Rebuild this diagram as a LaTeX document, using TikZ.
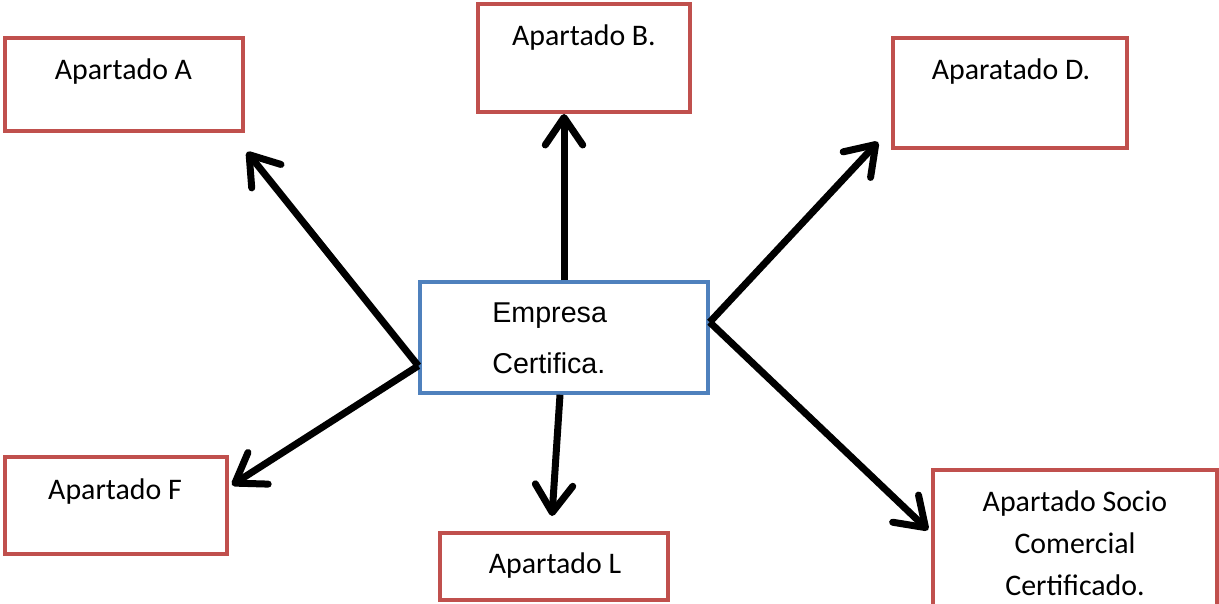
\documentclass[tikz,border=0pt]{standalone}
\usepackage{fontspec}
\setmainfont{Carlito}
\newfontfamily\arialfont{Liberation Sans}
\usetikzlibrary{arrows.meta,calc}
\definecolor{boxred}{RGB}{192,80,77}
\definecolor{boxblue}{RGB}{79,129,189}
\begin{document}
\begin{tikzpicture}[x=0.02cm,y=-0.02cm,
	apbox/.style={rectangle, draw=boxred, line width=0.08cm, inner sep=0pt},
	centralbox/.style={rectangle, draw=boxblue, line width=0.07cm, inner sep=0pt},
	lbl/.style={inner sep=0pt, align=center, font=\fontsize{17}{23.8}\selectfont},
	arr/.style={line width=0.14cm, -{Straight Barb[length=0.55cm, width=0.75cm, round]}}
	]
	\useasboundingbox (0,0) rectangle (1219,604);
	\clip (0,0) rectangle (1219,604);
	\path
	+(124,84.5)  node[apbox, minimum width=4.76cm, minimum height=1.86cm]  (apA) {}
	+(584,58)    node[apbox, minimum width=4.24cm, minimum height=2.16cm]  (apB) {}
	+(1010,93)   node[apbox, minimum width=4.68cm, minimum height=2.20cm]  (apD) {}
	+(564,337.5) node[centralbox, minimum width=5.76cm, minimum height=2.22cm]  (empresa) {}
	+(116,505.5) node[apbox, minimum width=4.44cm, minimum height=1.94cm]  (apF) {}
	+(554,566.5) node[apbox, minimum width=4.56cm, minimum height=1.34cm]  (apL) {}
	+(1075,545)  node[apbox, minimum width=5.68cm, minimum height=3.00cm]  (socio) {}
	;
	\path
	+(123.5,72)  node[lbl]  (txtA) {Apartado A}
	+(584,38)    node[lbl]  (txtB) {Apartado B.}
	+(1011,72)   node[lbl]  (txtD) {Aparatado D.}
	+(492,338.5) node[lbl, anchor=west, align=left, font=\arialfont\fontsize{16.3}{29}\selectfont]  (txtE) {Empresa\\Certifica.}
	+(115,492)   node[lbl]  (txtF) {Apartado F}
	+(555,566)   node[lbl]  (txtL) {Apartado L}
	+(1075,543)  node[lbl]  (txtS) {Apartado Socio\\Comercial\\Certificado.}
	;
	\draw[arr] (empresa.191) -- ($(apA.south east)+(2,19)$);
	\draw[arr] (empresa.north) -- (empresa.north |- apB.south);
	\draw[arr] (empresa.6) -- ($(apD.south west)+(-13,-8)$);
	\draw[arr] (empresa.191) -- ($(apF.north east)+(3,30)$);
	\draw[arr] (empresa.266) -- ($(apL.north)+(-2,-15)$);
	\draw[arr] (empresa.6) -- ($(socio.north west)+(-3,62)$);
\end{tikzpicture}
\end{document}
